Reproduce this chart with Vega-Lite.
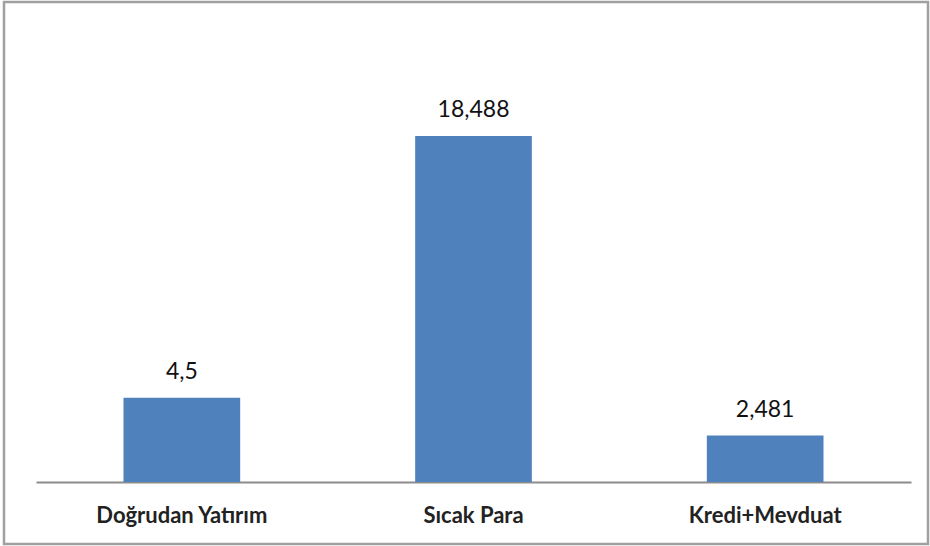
{
  "$schema": "https://vega.github.io/schema/vega-lite/v6.json",
  "autosize": "none",
  "width": 924,
  "height": 542,
  "padding": {"left": 4, "top": 2, "right": 2, "bottom": 2},
  "background": "white",
  "config": {"view": {"stroke": "#a0a0a0", "strokeWidth": 2.5}},
  "data": {"values": [
    {"kategori": "Doğrudan Yatırım", "deger": 4.5, "etiket": "4,5"},
    {"kategori": "Sıcak Para", "deger": 18.488, "etiket": "18,488"},
    {"kategori": "Kredi+Mevduat", "deger": 2.481, "etiket": "2,481"}
  ]},
  "encoding": {
    "x": {
      "field": "kategori", "type": "nominal", "sort": null,
      "scale": {"range": [32, 907], "paddingInner": 0.6, "paddingOuter": 0.3},
      "axis": {
        "title": null, "orient": "bottom", "offset": -62, "ticks": false,
        "domainColor": "#8c8c8c", "domainWidth": 2,
        "labelFont": "Lato", "labelFontWeight": "bold", "labelFontSize": 22,
        "labelColor": "#222222", "labelPadding": 23, "labelAngle": 0
      }
    },
    "y": {
      "field": "deger", "type": "quantitative",
      "scale": {"domain": [-3.313, 25.648], "nice": false, "zero": false},
      "axis": null
    }
  },
  "layer": [
    {"mark": {"type": "bar", "color": "#4F81BD"}, "encoding": {"y2": {"datum": 0}}},
    {"mark": {"type": "text", "font": "Lato", "fontSize": 23, "color": "#111111", "baseline": "alphabetic", "dy": -19},
     "encoding": {"text": {"field": "etiket"}}}
  ]
}
